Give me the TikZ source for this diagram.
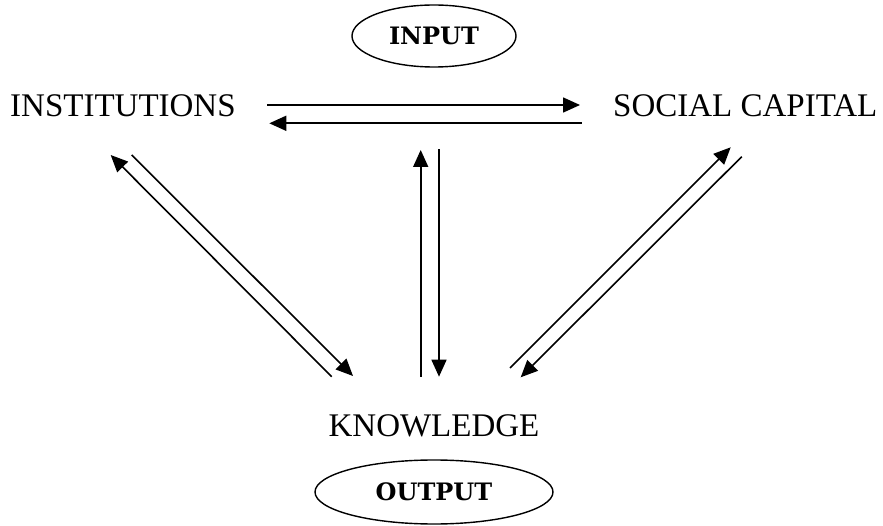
\documentclass[tikz,border=0pt]{standalone}
\usepackage{fontspec}
\setmainfont{Liberation Serif}
\newfontfamily\bdf{DejaVu Serif}
\usetikzlibrary{arrows.meta,calc,shapes.geometric}
\begin{document}
\begin{tikzpicture}[x=1pt,y=-1pt,
  lbl/.style={inner sep=0pt,font=\fontsize{33}{36}\selectfont},
  oval/.style={draw,ellipse,line width=1.4pt,inner sep=0pt,font=\bdf\bfseries\fontsize{24}{27}\selectfont},
  arr/.style={line width=1.6pt,-{Triangle[length=17pt,width=15pt]}}]
\useasboundingbox (0,0) rectangle (883,526);
\node[lbl,anchor=base west] (inst) at (10,116.7) {INSTITUTIONS};
\node[lbl,anchor=base west] (soc) at (613,116.7) {SOCIAL CAPITAL};
\node[lbl,anchor=base] (know) at (434,436.7) {KNOWLEDGE};
\node[oval,minimum width=164pt,minimum height=62pt] (input) at (434,36) {INPUT};
\node[oval,minimum width=238pt,minimum height=64pt] (output) at (434,492) {OUTPUT};
% horizontal pair
\draw[arr] ($(inst.base west)+(257.3,-11.7)$) -- ($(soc.base west)+(-33,-11.7)$);
\draw[arr] ($(soc.base west)+(-31.3,6.6)$) -- ($(inst.base west)+(259.3,6.6)$);
% left diagonal pair
\draw[arr] ($(know.base)+(-102.3,-60)$) -- ($(inst.base west)+(100.7,38.3)$);
\draw[arr] ($(inst.base west)+(121.7,38.3)$) -- ($(know.base)+(-81,-60.7)$);
% vertical pair
\draw[arr] ($(know.base)+(-13.3,-60)$) -- ($(input.center)+(-13.3,114)$);
\draw[arr] ($(input.center)+(5,113.3)$) -- ($(know.base)+(5,-60)$);
% right diagonal pair
\draw[arr] ($(know.base)+(76,-68.7)$) -- ($(soc.base west)+(117.7,30.6)$);
\draw[arr] ($(soc.base west)+(128.7,40)$) -- ($(know.base)+(86.7,-59.4)$);
\end{tikzpicture}
\end{document}
